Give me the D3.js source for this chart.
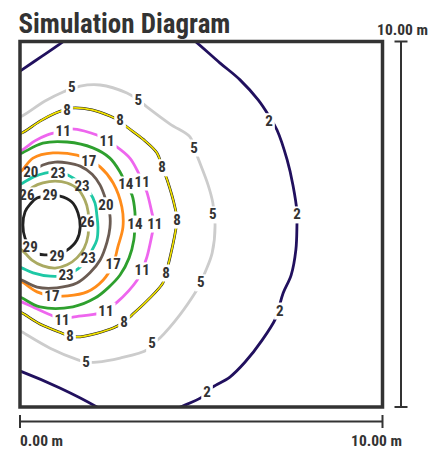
<!DOCTYPE html>
<html>
<head>
<meta charset="utf-8">
<script src="https://cdn.jsdelivr.net/npm/d3@7"></script>
<style>
  html, body { margin: 0; padding: 0; background: #fff; }
  svg { display: block; }
  text { font-family: "Liberation Sans Narrow", "Roboto Condensed", "Arial Narrow", sans-serif; font-weight: bold; fill: #333; }
</style>
</head>
<body>
<svg id="chart" width="443" height="449"></svg>
<script>
// Domain of the simulated region (metres)
const extentX = [0, 10];
const extentY = [0, 10];
const scaleLabels = ["0.00 m", "10.00 m"];
const titleText = "Simulation Diagram";

// Contour levels and their colours
const levels = [2, 5, 8, 11, 14, 17, 20, 23, 26, 29];
const levelColors = ["#21105e", "#cccccc", "#f2e200", "#ee66ee", "#2ea02e",
                     "#ff8c1a", "#6b5c53", "#1ec8a5", "#aaaa62", "#222222"];

// Iso-lines, as lists of [x, y] points in metres (several pieces where a line leaves the region)
const iso2 = [
  [[-0.17, 9.08], [0, 9.19], [0.61, 9.60], [1.21, 10.01], [1.32, 10.10]],
  [[4.69, 10.12], [4.83, 10.01], [5.52, 9.41], [6.07, 8.95], [6.57, 8.40], [6.87, 7.96],
   [7.09, 7.58], [7.37, 6.76], [7.53, 6.07], [7.64, 5.34], [7.64, 4.98], [7.61, 4.30],
   [7.48, 3.61], [7.26, 3.12], [7.14, 2.71], [7.06, 2.44], [6.68, 1.83], [6.21, 1.23],
   [5.79, 0.82], [5.32, 0.55], [5.16, 0.41], [5.02, 0.27], [4.36, -0.03], [4.14, -0.14]],
  [[-0.17, 1.04], [0.06, 0.96], [1.10, 0.52], [2.12, 0], [2.29, -0.11]]
];
const iso5 = [[
  [-0.08, 7.91], [0.06, 7.96], [0.69, 8.37], [1.19, 8.62], [1.43, 8.70], [1.66, 8.78],
  [2.21, 8.81], [2.95, 8.59], [3.26, 8.40], [3.50, 8.21], [4.14, 7.74], [4.69, 7.39],
  [4.80, 7.11], [4.91, 6.81], [5.19, 6.07], [5.32, 5.58], [5.35, 5.25], [5.38, 5.03],
  [5.30, 4.21], [5.10, 3.67], [4.99, 3.39], [4.88, 3.20], [4.41, 2.52], [3.86, 1.89],
  [3.64, 1.72], [3.50, 1.56], [2.76, 1.34], [2.12, 1.23], [1.82, 1.23], [1.60, 1.29],
  [0.83, 1.61], [0.06, 2.05], [-0.08, 2.13]
]];
const iso8 = [[
  [-0.08, 7.47], [0.06, 7.50], [0.55, 7.82], [0.97, 8.04], [1.30, 8.15], [1.43, 8.18],
  [1.99, 8.13], [2.48, 7.96], [2.76, 7.82], [2.95, 7.66], [3.39, 7.33], [3.78, 6.95],
  [3.92, 6.57], [4.06, 6.21], [4.28, 5.44], [4.33, 5.12], [4.28, 4.76], [4.14, 4.10],
  [4.03, 3.67], [3.94, 3.39], [3.53, 2.93], [3.09, 2.52], [2.87, 2.33], [2.57, 2.16],
  [1.66, 1.92], [1.38, 1.94], [1.16, 2.02], [0.55, 2.27], [0.06, 2.57], [-0.08, 2.63]
]];
const iso11 = [[
  [-0.08, 6.98], [0.06, 7.03], [0.41, 7.28], [0.74, 7.44], [1.19, 7.55], [1.43, 7.61],
  [2.12, 7.44], [2.40, 7.28], [2.68, 7.11], [3.03, 6.81], [3.23, 6.48], [3.37, 6.18],
  [3.50, 5.88], [3.64, 5.31], [3.70, 5.03], [3.64, 4.71], [3.50, 4.10], [3.37, 3.75],
  [3.23, 3.47], [2.68, 2.87], [2.37, 2.65], [2.21, 2.57], [1.46, 2.46], [1.16, 2.41],
  [0.91, 2.49], [0.41, 2.71], [0.06, 2.87], [-0.08, 2.93]
]];
const iso14 = [[
  [-0.08, 6.89], [0.06, 6.95], [0.63, 7.22], [1.30, 7.25], [2.01, 7.09], [2.48, 6.81],
  [2.76, 6.43], [2.92, 6.10], [3.09, 5.80], [3.17, 5.34], [3.17, 5.01], [3.14, 4.57],
  [3.01, 4.08], [2.76, 3.61], [2.43, 3.26], [2.07, 2.98], [1.46, 2.74], [0.55, 2.74],
  [0.06, 2.98], [-0.08, 3.04]
]];
const iso17 = [[
  [-0.08, 6.37], [0.06, 6.48], [0.36, 6.81], [0.91, 6.95], [1.57, 6.89], [1.90, 6.76],
  [2.21, 6.57], [2.57, 6.13], [2.81, 5.47], [2.84, 4.92], [2.70, 4.38], [2.57, 3.91],
  [2.29, 3.47], [1.85, 3.15], [1.30, 3.04], [0.88, 3.04], [0.47, 3.15], [0.06, 3.42],
  [-0.08, 3.47]
]];
const iso20 = [[
  [-0.08, 6.18], [0.06, 6.27], [0.33, 6.43], [0.63, 6.62], [0.97, 6.70], [1.30, 6.68],
  [1.66, 6.59], [1.99, 6.37], [2.21, 6.07], [2.37, 5.66], [2.48, 5.25], [2.48, 4.90],
  [2.40, 4.51], [2.21, 4.02], [1.93, 3.67], [1.57, 3.39], [1.02, 3.26], [0.47, 3.28],
  [0.06, 3.47], [-0.08, 3.53]
]];
const iso23 = [[
  [-0.08, 6.05], [0.08, 6.13], [0.36, 6.29], [0.69, 6.40], [1.05, 6.43], [1.32, 6.35],
  [1.66, 6.13], [1.93, 5.86], [2.07, 5.58], [2.12, 5.25], [2.15, 4.92], [2.12, 4.57],
  [1.99, 4.30], [1.82, 4.02], [1.60, 3.78], [1.27, 3.61], [0.83, 3.58], [0.36, 3.67],
  [0.06, 3.80], [-0.08, 3.86]
]];
const iso26 = [[
  [-0.08, 5.80], [0.19, 5.88], [0.36, 6.02], [0.63, 6.13], [0.97, 6.18], [1.30, 6.13],
  [1.60, 5.96], [1.79, 5.66], [1.88, 5.34], [1.88, 5.03], [1.88, 4.71], [1.77, 4.35],
  [1.57, 4.08], [1.30, 3.89], [0.97, 3.80], [0.63, 3.86], [0.33, 4.02], [0.14, 4.21],
  [-0.08, 4.40]
]];
const iso29 = [[
  [0.47, 5.72], [0.83, 5.77], [1.10, 5.77], [1.43, 5.61], [1.60, 5.31], [1.66, 4.92],
  [1.57, 4.57], [1.30, 4.29], [1.02, 4.16], [0.74, 4.16], [0.50, 4.19], [0.28, 4.38],
  [0.14, 4.62], [0.08, 4.98], [0.14, 5.34], [0.28, 5.55]
]];

// Where each level is labelled (metres)
const tags2 = [[6.87, 7.83], [7.64, 5.28], [7.17, 2.65], [5.16, 0.41]];
const tags5 = [[1.43, 8.76], [3.26, 8.40], [4.80, 7.11], [5.32, 5.28], [4.99, 3.42], [3.64, 1.75], [1.82, 1.23]];
const tags8 = [[1.30, 8.13], [2.76, 7.85], [3.92, 6.57], [4.33, 5.14], [4.03, 3.69], [2.87, 2.33], [1.38, 1.94]];
const tags11 = [[1.19, 7.55], [2.40, 7.28], [3.37, 6.18], [3.72, 5.03], [3.37, 3.75], [2.37, 2.65], [1.16, 2.38]];
const tags14 = [[2.92, 6.10], [3.17, 5.03]];
const tags17 = [[1.90, 6.73], [2.57, 3.91], [0.88, 3.04]];
const tags20 = [[0.30, 6.43], [2.37, 5.53]];
const tags23 = [[1.05, 6.40], [1.71, 6.05], [1.88, 4.08], [1.27, 3.61]];
const tags26 = [[0.19, 5.80], [1.85, 5.06]];
const tags29 = [[0.83, 5.80], [0.28, 4.38], [1.02, 4.13]];

const isoLines = [iso2, iso5, iso8, iso11, iso14, iso17, iso20, iso23, iso26, iso29];
const isoTags = [tags2, tags5, tags8, tags11, tags14, tags17, tags20, tags23, tags26, tags29];

const contours = levels.map((v, i) => ({
  value: v, color: levelColors[i], pieces: isoLines[i], tags: isoTags[i], closed: v === 29
}));

const svg = d3.select("#chart");
const x = d3.scaleLinear().domain(extentX).range([20, 382.5]);
const y = d3.scaleLinear().domain(extentY).range([407, 41.5]);

const defs = svg.append("defs");
defs.append("clipPath").attr("id", "plot-clip")
  .append("rect")
  .attr("x", x(0)).attr("y", y(10))
  .attr("width", x(10) - x(0)).attr("height", y(0) - y(10));

const openLine = d3.line().x(d => x(d[0])).y(d => y(d[1])).curve(d3.curveCatmullRom.alpha(0.5));
const closedLine = d3.line().x(d => x(d[0])).y(d => y(d[1])).curve(d3.curveCatmullRomClosed.alpha(0.5));

// Labels first (measured to cut gaps into their own line)
const labelLayer = svg.append("g").attr("class", "labels");
const lineLayer = svg.insert("g", ".labels").attr("clip-path", "url(#plot-clip)");

contours.forEach((c, i) => {
  const texts = labelLayer.selectAll(null)
    .data(c.tags).enter().append("text")
    .attr("x", d => x(d[0])).attr("y", d => y(d[1]))
    .attr("text-anchor", "middle")
    .attr("dy", "0.36em")
    .style("font-size", "15px")
    .text(c.value);

  const mask = defs.append("mask").attr("id", "gap-" + i)
    .attr("maskUnits", "userSpaceOnUse")
    .attr("x", 0).attr("y", 0).attr("width", 443).attr("height", 449);
  mask.append("rect").attr("x", 0).attr("y", 0).attr("width", 443).attr("height", 449).attr("fill", "#fff");
  texts.each(function () {
    const b = this.getBBox();
    mask.append("rect")
      .attr("x", b.x - 2).attr("y", b.y + 1)
      .attr("width", b.width + 4).attr("height", b.height - 1)
      .attr("fill", "#000");
  });

  const g = lineLayer.append("g").attr("mask", "url(#gap-" + i + ")");
  const gen = c.closed ? closedLine : openLine;
  if (c.value === 8) {
    // yellow line with a thin dark rim
    g.selectAll(null).data(c.pieces).enter().append("path")
      .attr("d", gen).attr("fill", "none").attr("stroke", "#1a1a1a").attr("stroke-width", 2.7);
    g.selectAll(null).data(c.pieces).enter().append("path")
      .attr("d", gen).attr("fill", "none").attr("stroke", c.color).attr("stroke-width", 1.7);
  } else {
    g.selectAll(null).data(c.pieces).enter().append("path")
      .attr("d", gen).attr("fill", "none").attr("stroke", c.color).attr("stroke-width", 2.8)
      .attr("stroke-linejoin", "round");
  }
});

// Frame of the region
svg.append("rect")
  .attr("x", x(0)).attr("y", y(10))
  .attr("width", x(10) - x(0)).attr("height", y(0) - y(10))
  .attr("fill", "none").attr("stroke", "#333").attr("stroke-width", 3.5);

// Horizontal scale bar
const barY = 421.5;
const hBar = svg.append("g").attr("stroke", "#333").attr("stroke-width", 2);
hBar.append("line").attr("x1", x(0)).attr("x2", x(10)).attr("y1", barY).attr("y2", barY);
hBar.selectAll(null).data(extentX).enter().append("line")
  .attr("x1", d => x(d)).attr("x2", d => x(d)).attr("y1", barY - 6.5).attr("y2", barY + 6.5);

// Vertical scale bar
const barX = 401;
const vBar = svg.append("g").attr("stroke", "#333").attr("stroke-width", 2);
vBar.append("line").attr("x1", barX).attr("x2", barX).attr("y1", y(10)).attr("y2", y(0));
vBar.selectAll(null).data(extentY).enter().append("line")
  .attr("y1", d => y(d)).attr("y2", d => y(d)).attr("x1", barX - 6.5).attr("x2", barX + 6.5);

// Scale bar labels
svg.append("text").attr("x", 20).attr("y", 445.5).style("font-size", "15.5px").text(scaleLabels[0]);
svg.append("text").attr("x", 402).attr("y", 445.5).attr("text-anchor", "end").style("font-size", "15.5px").text(scaleLabels[1]);
svg.append("text").attr("x", 428).attr("y", 34.5).attr("text-anchor", "end").style("font-size", "15.5px").text(scaleLabels[1]);

// Title
svg.append("text").attr("x", 18.5).attr("y", 33).style("font-size", "27px").text(titleText);
</script>
</body>
</html>
